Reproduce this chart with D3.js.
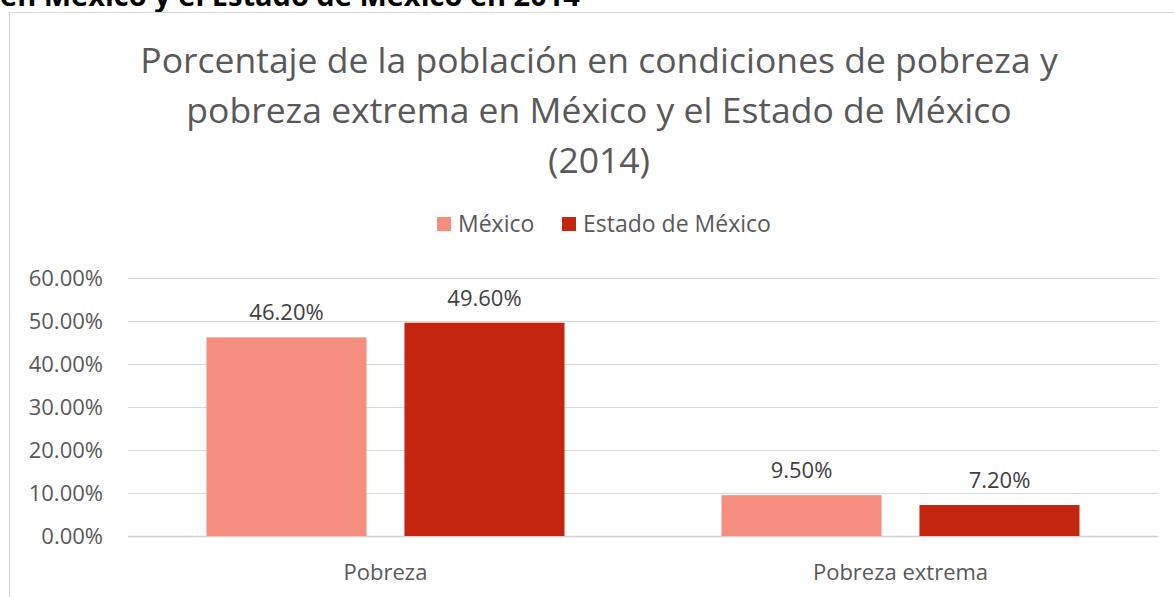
<!DOCTYPE html>
<html>
<head>
<meta charset="utf-8">
<script src="https://cdn.jsdelivr.net/npm/d3@7"></script>
<style>
  body { margin: 0; background: #fff; }
  svg { display: block; font-family: "Open Sans", "Noto Sans", sans-serif; }
</style>
</head>
<body>
<svg width="1174" height="597"></svg>
<script>
var categories = ["Pobreza", "Pobreza extrema"];
var seriesNames = ["México", "Estado de México"];
var mexico = [46.2, 9.5];
var estado = [49.6, 7.2];
var yTicks = [0, 10, 20, 30, 40, 50, 60];
var titleLines = ["Porcentaje de la población en condiciones de pobreza y",
                  "pobreza extrema en México y el Estado de México",
                  "(2014)"];
var colors = ["#f68e7f", "#c3250f"];

var svg = d3.select("svg"),
    margin = {top: 278, right: 16, bottom: 61, left: 128},
    width = +svg.attr("width") - margin.left - margin.right,
    height = +svg.attr("height") - margin.top - margin.bottom;

// cut-off heading from the page above the chart
svg.append("text")
    .attr("x", 0).attr("y", 6)
    .attr("font-size", 29).attr("font-weight", "bold")
    .attr("fill", "#000")
    .text("en México y el Estado de México en 2014");

// chart frame
svg.append("rect")
    .attr("x", 9.5).attr("y", 12.5)
    .attr("width", 1200).attr("height", 700)
    .attr("fill", "#fff").attr("stroke", "#d9d9d9");

svg.append("text")
    .attr("text-anchor", "middle")
    .attr("font-size", 35.5)
    .attr("fill", "#595959")
  .selectAll("tspan")
  .data(titleLines)
  .enter().append("tspan")
    .attr("x", 599)
    .attr("y", function(d, i) { return 73 + i * 50; })
    .text(function(d) { return d; });

var g = svg.append("g").attr("transform", "translate(" + margin.left + "," + margin.top + ")");

var x0 = d3.scaleBand().domain(categories).range([0, width]).paddingInner(0).paddingOuter(0);
var x1 = d3.scaleBand().domain(seriesNames).range([78.5, x0.bandwidth() - 78.5]).paddingInner(0.1916);
var y = d3.scaleLinear().domain([0, 60]).range([height, 0]);

g.append("g")
    .attr("class", "grid")
  .selectAll("line")
  .data(yTicks)
  .enter().append("line")
    .attr("x1", 0).attr("x2", width)
    .attr("y1", function(d) { return Math.round(y(d)) + 0.5; })
    .attr("y2", function(d) { return Math.round(y(d)) + 0.5; })
    .attr("stroke", function(d) { return d === 0 ? "#d0d0d0" : "#d9d9d9"; })
    .attr("stroke-width", function(d) { return d === 0 ? 1.5 : 1; });

g.append("g")
  .selectAll("text")
  .data(yTicks)
  .enter().append("text")
    .attr("x", -25)
    .attr("y", function(d) { return y(d); })
    .attr("dy", "0.35em")
    .attr("text-anchor", "end")
    .attr("font-size", 22)
    .attr("fill", "#595959")
    .text(function(d) { return d3.format(".2f")(d) + "%"; });

var rows = categories.map(function(c, i) {
  return {cat: c, vals: [{s: seriesNames[0], v: mexico[i]}, {s: seriesNames[1], v: estado[i]}]};
});

var grp = g.selectAll(".cat")
  .data(rows)
  .enter().append("g")
    .attr("class", "cat")
    .attr("transform", function(d) { return "translate(" + x0(d.cat) + ",0)"; });

grp.selectAll("rect")
  .data(function(d) { return d.vals; })
  .enter().append("rect")
    .attr("x", function(d) { return x1(d.s); })
    .attr("y", function(d) { return y(d.v); })
    .attr("width", x1.bandwidth())
    .attr("height", function(d) { return height - y(d.v); })
    .attr("fill", function(d, i) { return colors[i]; });

grp.selectAll(".lbl")
  .data(function(d) { return d.vals; })
  .enter().append("text")
    .attr("class", "lbl")
    .attr("x", function(d) { return x1(d.s) + x1.bandwidth() / 2; })
    .attr("y", function(d) { return y(d.v) - 17; })
    .attr("text-anchor", "middle")
    .attr("font-size", 22)
    .attr("fill", "#404040")
    .text(function(d) { return d3.format(".2f")(d.v) + "%"; });

g.append("g")
  .selectAll("text")
  .data(categories)
  .enter().append("text")
    .attr("x", function(d) { return x0(d) + x0.bandwidth() / 2; })
    .attr("y", height + 44)
    .attr("text-anchor", "middle")
    .attr("font-size", 22)
    .attr("fill", "#595959")
    .text(function(d) { return d; });

// legend
var legX = [437, 562];
var leg = svg.selectAll(".leg")
  .data(seriesNames)
  .enter().append("g")
    .attr("class", "leg")
    .attr("transform", function(d, i) { return "translate(" + legX[i] + ",217)"; });
leg.append("rect")
    .attr("width", 14).attr("height", 14)
    .attr("fill", function(d, i) { return colors[i]; });
leg.append("text")
    .attr("x", 21).attr("y", 7).attr("dy", "0.35em")
    .attr("font-size", 23)
    .attr("fill", "#595959")
    .text(function(d) { return d; });
</script>
</body>
</html>
